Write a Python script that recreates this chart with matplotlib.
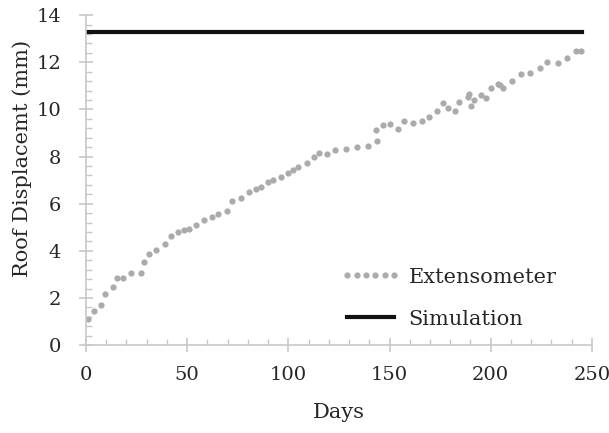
import matplotlib.pyplot as plt
from matplotlib.ticker import MultipleLocator

# Extensometer readings (days, mm)
ext_days = [1.1, 4.0, 7.7, 9.4, 13.5, 15.6, 18.1, 22.1, 27.3, 28.7, 31.3, 34.6,
            39.0, 42.3, 45.6, 48.4, 51.1, 54.3, 58.3, 62.4, 65.5, 69.5, 72.0,
            76.8, 80.7, 84.0, 86.5, 89.9, 92.2, 96.2, 100.0, 102.4, 104.9,
            109.0, 112.8, 115.1, 118.9, 123.0, 128.3, 133.7, 139.2, 143.9,
            143.3, 146.9, 150.2, 154.3, 157.4, 161.7, 165.8, 169.6, 173.6,
            176.2, 179.0, 182.3, 184.4, 188.6, 189.4, 190.1, 191.9, 195.0,
            197.5, 200.3, 203.4, 204.5, 206.0, 210.5, 214.9, 219.4, 224.3,
            227.9, 233.0, 237.6, 241.9, 244.7]
ext_disp = [1.10, 1.46, 1.71, 2.15, 2.46, 2.86, 2.86, 3.08, 3.08, 3.51, 3.86,
            4.04, 4.29, 4.62, 4.79, 4.89, 4.91, 5.08, 5.32, 5.42, 5.56, 5.70,
            6.10, 6.25, 6.50, 6.62, 6.69, 6.92, 7.01, 7.14, 7.31, 7.41, 7.57,
            7.71, 7.99, 8.17, 8.10, 8.29, 8.32, 8.39, 8.46, 8.67, 9.12, 9.36,
            9.39, 9.16, 9.49, 9.42, 9.52, 9.69, 9.93, 10.28, 10.08, 9.93,
            10.32, 10.54, 10.65, 10.15, 10.39, 10.61, 10.47, 10.90, 11.09,
            11.05, 10.93, 11.21, 11.50, 11.55, 11.74, 12.01, 11.95, 12.19,
            12.47, 12.47]

# Simulation result (constant)
sim_days = [0.5, 245]
sim_disp = [13.3, 13.3]

plt.rcParams['font.family'] = ['DejaVu Serif']
fig = plt.figure(figsize=(6.09, 4.33), dpi=100)
ax = fig.add_axes([0.141, 0.203, 0.831, 0.762])

ax.plot(ext_days, ext_disp, linestyle='none', marker='o', markersize=4.5,
        color='#ababab', markeredgewidth=0, label='Extensometer')
ax.plot(sim_days, sim_disp, color='#111111', linewidth=3, label='Simulation')

ax.set_xlim(0, 250)
ax.set_ylim(0, 14)
ax.xaxis.set_major_locator(MultipleLocator(50))
ax.xaxis.set_minor_locator(MultipleLocator(10))
ax.yaxis.set_major_locator(MultipleLocator(2))
ax.yaxis.set_minor_locator(MultipleLocator(0.4))

for s in ['top', 'right']:
    ax.spines[s].set_visible(False)
for s in ['left', 'bottom']:
    ax.spines[s].set_color('#c8c8c8')
    ax.spines[s].set_linewidth(1.2)

ax.tick_params(which='major', direction='inout', length=9.5, width=1.2,
               color='#c8c8c8', labelsize=14, labelcolor='#262626')
ax.tick_params(which='minor', direction='in', length=4.3, width=1.0,
               color='#c8c8c8')
ax.tick_params(axis='x', which='major', pad=10)
ax.tick_params(axis='y', which='major', pad=13)

ax.set_xlabel('Days', fontsize=15, color='#262626', labelpad=14)
ax.set_ylabel('Roof Displacemt (mm)', fontsize=15, color='#262626')
ax.yaxis.set_label_coords(-0.106, 0.565)

ax.legend(loc='center left', bbox_to_anchor=(0.504, 0.142), frameon=False,
          fontsize=15, numpoints=6, handlelength=2.85, handletextpad=0.4,
          labelspacing=1.1, borderpad=0, borderaxespad=0, labelcolor='#262626')

fig.savefig('out.png', dpi=100)
